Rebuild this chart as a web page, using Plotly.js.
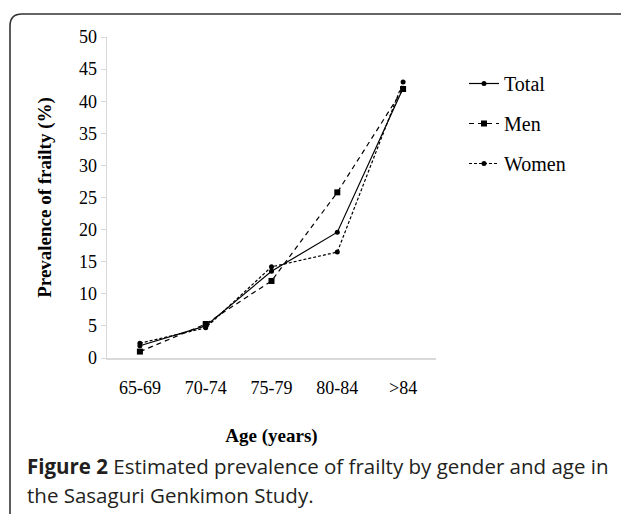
<!DOCTYPE html>
<html>
<head>
<meta charset="utf-8">
<script src="https://cdn.plot.ly/plotly-3.0.1.min.js"></script>
<style>html,body{margin:0;padding:0;background:#fff;}#chart{width:621px;height:514px;}</style>
</head>
<body>
<div id="chart"></div>
<script>
var ageGroups = ["65-69", "70-74", "75-79", "80-84", ">84"];
var totalValues = [1.9, 5.0, 13.5, 19.6, 42.0];
var menValues = [1.0, 5.3, 12.0, 25.8, 41.9];
var womenValues = [2.3, 4.7, 14.2, 16.5, 43.0];
var seriesNames = ["Total", "Men", "Women"];
var yTicks = [0, 5, 10, 15, 20, 25, 30, 35, 40, 45, 50];
var xTitle = "Age (years)";
var yTitle = "Prevalence of frailty (%)";
var captionBold = "Figure 2";
var captionLine1 = " Estimated prevalence of frailty by gender and age in";
var captionLine2 = "the Sasaguri Genkimon Study.";

var W = 621, H = 514;
var M = {l: 107, r: 185, t: 37, b: 156};
var pw = W - M.l - M.r, ph = H - M.t - M.b;
function px(x) { return (x - M.l) / pw; }
function py(y) { return (H - M.b - y) / ph; }

var serif = "Liberation Serif, Times New Roman, serif";
var sans = "Open Sans, Noto Sans, sans-serif";

var traces = [
  {x: ageGroups, y: totalValues, name: seriesNames[0], legendgroup: "a", mode: "lines+markers",
   line: {color: "#000", width: 1.2, dash: "solid"}, marker: {symbol: "circle", size: 5, color: "#000"}},
  {x: ageGroups, y: menValues, name: seriesNames[1], legendgroup: "b", mode: "lines+markers",
   line: {color: "#000", width: 1.2, dash: "5px,4px"}, marker: {symbol: "square", size: 6, color: "#000"}},
  {x: ageGroups, y: womenValues, name: seriesNames[2], legendgroup: "c", mode: "lines+markers",
   line: {color: "#000", width: 1.2, dash: "3px,2px"}, marker: {symbol: "circle", size: 5, color: "#000"}}
];

var L = 10, T = 14, R = 640, B = 540, rad = 12;
var framePath = "M " + px(L) + "," + py(B) +
  " L " + px(L) + "," + py(T + rad) +
  " Q " + px(L) + "," + py(T) + " " + px(L + rad) + "," + py(T) +
  " L " + px(R) + "," + py(T);

var layout = {
  width: W, height: H,
  margin: M,
  paper_bgcolor: "#fff", plot_bgcolor: "#fff",
  showlegend: true,
  font: {family: serif, color: "#000", size: 18},
  xaxis: {
    type: "category", range: [-0.5, 4.5],
    showline: true, linecolor: "#d9d9d9", linewidth: 1.5,
    showgrid: false, zeroline: false, ticks: "", ticklabelstandoff: 13,
    tickfont: {family: serif, size: 18, color: "#000"},
    title: {text: "<b>" + xTitle + "</b>", font: {family: serif, size: 19, color: "#000"}, standoff: 31}
  },
  yaxis: {
    range: [0, 50], tickvals: yTicks,
    showline: true, linecolor: "#d9d9d9", linewidth: 1.5,
    ticks: "outside", ticklen: 5, tickcolor: "#d9d9d9",
    showgrid: false, zeroline: false,
    tickfont: {family: serif, size: 18, color: "#000"},
    title: {text: "<b>" + yTitle + "</b>", font: {family: serif, size: 19, color: "#000"}, standoff: 22}
  },
  legend: {
    x: px(464), y: py(64), xanchor: "left", yanchor: "top",
    font: {family: serif, size: 20, color: "#000"},
    itemwidth: 30, tracegroupgap: 11, bgcolor: "rgba(0,0,0,0)"
  },
  shapes: [
    {type: "path", xref: "paper", yref: "paper", path: framePath, line: {color: "#333", width: 1.6}}
  ],
  annotations: [
    {xref: "paper", yref: "paper", x: px(25), y: py(466), xanchor: "left", yanchor: "middle", showarrow: false,
     text: "<b>" + captionBold + "</b>" + captionLine1,
     font: {family: sans, size: 20.5, color: "#231f20"}},
    {xref: "paper", yref: "paper", x: px(25), y: py(495), xanchor: "left", yanchor: "middle", showarrow: false,
     text: captionLine2,
     font: {family: sans, size: 20.5, color: "#231f20"}}
  ]
};

Plotly.newPlot("chart", traces, layout, {displayModeBar: false, staticPlot: true});
</script>
</body>
</html>
